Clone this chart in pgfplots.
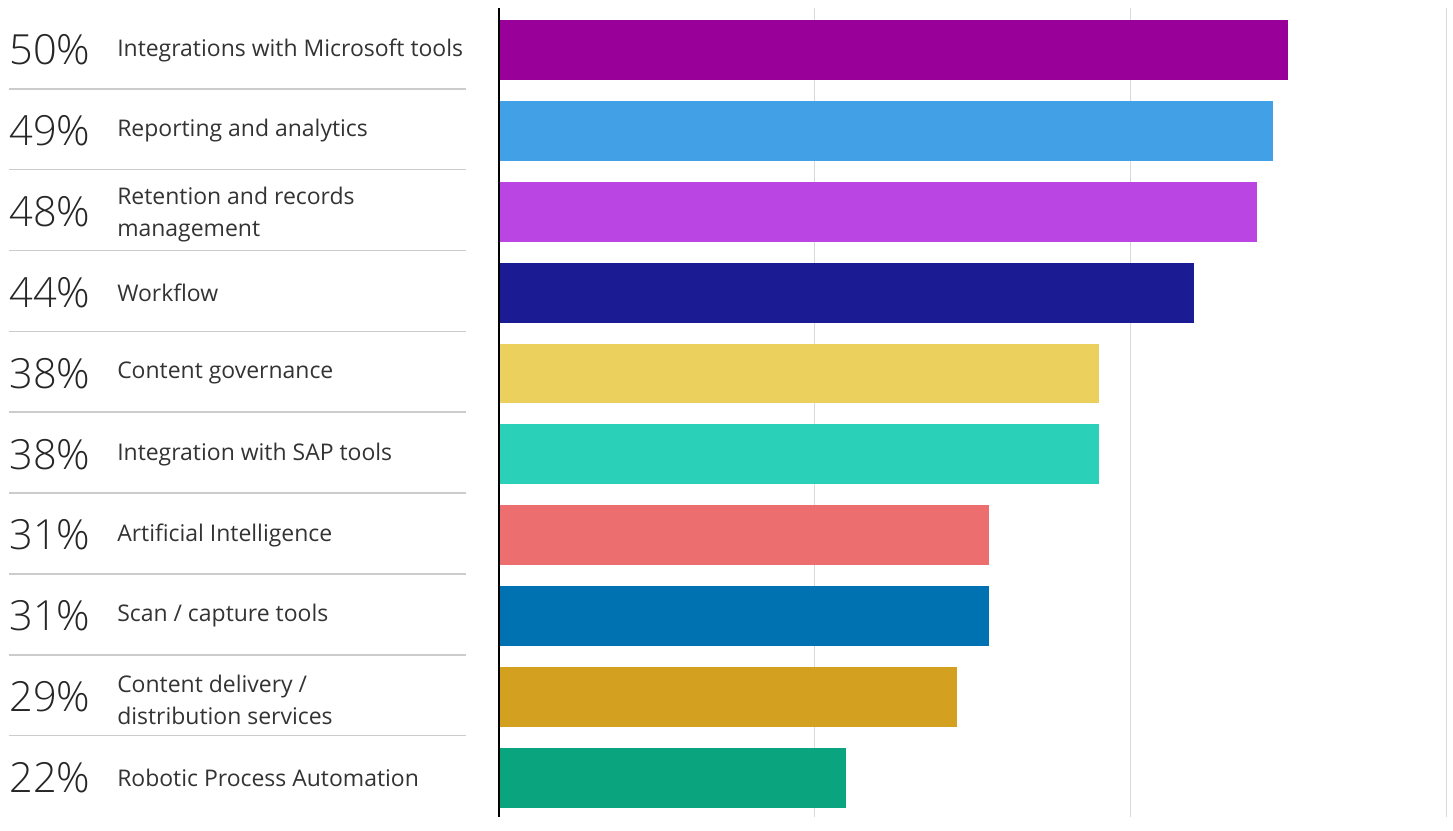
\documentclass[border=0pt]{standalone}
\usepackage{pgfplots}
\pgfplotsset{compat=1.18}
\usepackage{fontspec}
\setmainfont{Open Sans}
\newfontfamily\lightfont{Open Sans Light}

\definecolor{c1}{HTML}{990099}
\definecolor{c2}{HTML}{42A0E6}
\definecolor{c3}{HTML}{BA45E3}
\definecolor{c4}{HTML}{1B1B93}
\definecolor{c5}{HTML}{ECD05E}
\definecolor{c6}{HTML}{2BD0B8}
\definecolor{c7}{HTML}{ED6E6E}
\definecolor{c8}{HTML}{0072B2}
\definecolor{c9}{HTML}{D4A020}
\definecolor{c10}{HTML}{0AA57F}
\definecolor{gridgray}{HTML}{D9D9D9}
\definecolor{sepgray}{HTML}{CCCCCC}
\definecolor{txt}{HTML}{333333}

\begin{document}
\begin{tikzpicture}
  \begin{axis}[
    name=ax,
    scale only axis,
    width=474.5pt, height=405pt,
    xmin=0, xmax=60,
    ymin=-0.52, ymax=9.48,
    y dir=reverse,
    xbar, bar width=0.74, bar shift=0pt,
    axis line style={draw=none},
    xtick={20,40,60}, xticklabels={},
    ytick=\empty,
    major tick length=0pt,
    xmajorgrids,
    grid style={color=gridgray, line width=0.6pt},
    clip=false,
    ]
    \addplot[draw=none, fill=c1]  coordinates {(50,0)};
    \addplot[draw=none, fill=c2]  coordinates {(49,1)};
    \addplot[draw=none, fill=c3]  coordinates {(48,2)};
    \addplot[draw=none, fill=c4]  coordinates {(44,3)};
    \addplot[draw=none, fill=c5]  coordinates {(38,4)};
    \addplot[draw=none, fill=c6]  coordinates {(38,5)};
    \addplot[draw=none, fill=c7]  coordinates {(31,6)};
    \addplot[draw=none, fill=c8]  coordinates {(31,7)};
    \addplot[draw=none, fill=c9]  coordinates {(29,8)};
    \addplot[draw=none, fill=c10] coordinates {(22,9)};

    % y axis line
    \draw[black, line width=0.75pt] (rel axis cs:0,0) -- (rel axis cs:0,1);

    % separators between rows
    \pgfplotsinvokeforeach{0,...,8}{
      \draw[sepgray, line width=0.75pt] (axis cs:-31.04,#1+0.48) -- (axis cs:-2.09,#1+0.48);
    }

    \tikzset{pct/.style={anchor=west, inner sep=0pt, text=black!85,
        font=\lightfont\fontsize{20.8}{24}\selectfont},
      lab/.style={anchor=west, inner sep=0pt, text=txt, align=left,
        font=\fontsize{11.5}{16}\selectfont}}
    \node[pct] at (axis cs:-31.04,0) {50\%};
    \node[pct] at (axis cs:-31.04,1) {49\%};
    \node[pct] at (axis cs:-31.04,2) {48\%};
    \node[pct] at (axis cs:-31.04,3) {44\%};
    \node[pct] at (axis cs:-31.04,4) {38\%};
    \node[pct] at (axis cs:-31.04,5) {38\%};
    \node[pct] at (axis cs:-31.04,6) {31\%};
    \node[pct] at (axis cs:-31.04,7) {31\%};
    \node[pct] at (axis cs:-31.04,8) {29\%};
    \node[pct] at (axis cs:-31.04,9) {22\%};

    \node[lab] at (axis cs:-24.21,0) {Integrations with Microsoft tools};
    \node[lab] at (axis cs:-24.21,1) {Reporting and analytics};
    \node[lab, yshift=-1.5pt] at (axis cs:-24.21,2) {Retention and records\\management};
    \node[lab] at (axis cs:-24.21,3) {Workflow};
    \node[lab] at (axis cs:-24.21,4) {Content governance};
    \node[lab] at (axis cs:-24.21,5) {Integration with SAP tools};
    \node[lab] at (axis cs:-24.21,6) {Artificial Intelligence};
    \node[lab] at (axis cs:-24.21,7) {Scan / capture tools};
    \node[lab, yshift=-1.5pt] at (axis cs:-24.21,8) {Content delivery /\\distribution services};
    \node[lab] at (axis cs:-24.21,9) {Robotic Process Automation};
  \end{axis}
  \path ([xshift=-250pt,yshift=4pt]ax.north west) rectangle ([xshift=2pt]ax.south east);
\end{tikzpicture}
\end{document}
